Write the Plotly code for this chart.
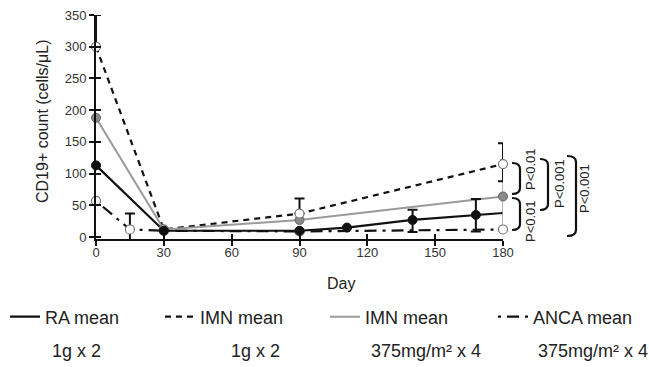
import plotly.graph_objects as go

# ---------------- data ----------------
ra_days = [0, 30, 90, 111, 140, 168, 180]
ra_vals = [113, 10, 10, 15, 27, 35, 38]
ra_err_up = [0, 0, 0, 0, 16, 25, 0]
ra_err_dn = [0, 0, 0, 0, 19, 26, 0]

imn1_days = [0, 30, 90, 180]
imn1_vals = [300, 12, 37, 115]
imn1_err_up = [50, 0, 24, 33]
imn1_err_dn = [0, 0, 0, 27]

imn375_days = [0, 30, 90, 180]
imn375_vals = [188, 12, 27, 64]
imn375_err = [0, 0, 0, 58]

anca_days = [0, 15, 30, 90, 180]
anca_vals = [57, 12, 10, 9, 12]
anca_err_up = [0, 25, 0, 0, 0]
anca_err_dn = [0, 27, 0, 0, 0]

x_ticks = [0, 30, 60, 90, 120, 150, 180]
y_ticks = [0, 50, 100, 150, 200, 250, 300, 350]

legend_names = ["RA mean", "IMN mean", "IMN mean", "ANCA mean"]
dose_labels = ["1g x 2", "1g x 2", "375mg/m² x 4", "375mg/m² x 4"]
p_labels = ["P<0.01", "P<0.01", "P<0.001", "P<0.001"]

# ---------------- layout geometry ----------------
W, H = 649, 367
ML, MR, MT, MB = 96, 146, 15, 128
PW = W - ML - MR
PH = H - MT - MB

def px(xp):
    return (xp - ML) / PW

def py(yp):
    return (H - MB - yp) / PH

FONT = "Liberation Sans, Arial, sans-serif"
TXT = "#222"
GRAY = "#9a9a9a"

fig = go.Figure()

# line traces (each in its own legend)
fig.add_trace(go.Scatter(x=ra_days, y=ra_vals, mode="lines", name=legend_names[0],
                         legend="legend",
                         line=dict(color="#111", width=2.2), cliponaxis=False))
fig.add_trace(go.Scatter(x=imn1_days, y=imn1_vals, mode="lines", name=legend_names[1],
                         legend="legend2",
                         line=dict(color="#111", width=2.2, dash="6px,5px"), cliponaxis=False))
fig.add_trace(go.Scatter(x=imn375_days, y=imn375_vals, mode="lines", name=legend_names[2],
                         legend="legend3",
                         line=dict(color=GRAY, width=2), cliponaxis=False))
fig.add_trace(go.Scatter(x=anca_days, y=anca_vals, mode="lines", name=legend_names[3],
                         legend="legend4",
                         line=dict(color="#111", width=2.2, dash="3px,6px,12px,6px"), cliponaxis=False))

# markers + error bars (not in legend)
fig.add_trace(go.Scatter(x=imn375_days, y=imn375_vals, mode="markers", showlegend=False,
                         marker=dict(size=9, color="#8a8a8a", line=dict(color="#666", width=1)),
                         error_y=dict(type="data", array=imn375_err, color=GRAY,
                                      thickness=1.5, width=3),
                         cliponaxis=False))
fig.add_trace(go.Scatter(x=imn1_days, y=imn1_vals, mode="markers", showlegend=False,
                         marker=dict(size=9, color="white", line=dict(color="#777", width=1.2)),
                         error_y=dict(type="data", symmetric=False, array=imn1_err_up,
                                      arrayminus=imn1_err_dn, color="#111", thickness=2, width=5),
                         cliponaxis=False))
fig.add_trace(go.Scatter(x=anca_days, y=anca_vals, mode="markers", showlegend=False,
                         marker=dict(size=9, color="white", line=dict(color="#777", width=1.2)),
                         error_y=dict(type="data", symmetric=False, array=anca_err_up,
                                      arrayminus=anca_err_dn, color="#111", thickness=2, width=5),
                         cliponaxis=False))
fig.add_trace(go.Scatter(x=ra_days[:-1], y=ra_vals[:-1], mode="markers", showlegend=False,
                         marker=dict(size=9, color="#111", line=dict(color="#111", width=1)),
                         error_y=dict(type="data", symmetric=False, array=ra_err_up[:-1],
                                      arrayminus=ra_err_dn[:-1], color="#111", thickness=2, width=5),
                         cliponaxis=False))

# invisible trace for inner tick axes
fig.add_trace(go.Scatter(x=[None], y=[None], xaxis="x2", yaxis="y2", showlegend=False,
                         hoverinfo="skip"))

axis_common = dict(showgrid=False, zeroline=False)

def legend_at(xpix):
    return dict(x=px(xpix), y=py(317), xref="paper", yref="paper",
                xanchor="left", yanchor="middle", font=dict(size=18, color=TXT),
                itemwidth=30, bgcolor="rgba(0,0,0,0)", borderwidth=0)

fig.update_layout(
    width=W, height=H,
    margin=dict(l=ML, r=MR, t=MT, b=MB, autoexpand=False),
    paper_bgcolor="white", plot_bgcolor="white",
    font=dict(family=FONT, color=TXT),
    xaxis=dict(range=[0, 180], tickvals=x_ticks, ticks="outside", ticklen=5, tickwidth=2,
               tickcolor="#111", showline=True, linecolor="#111", linewidth=2,
               ticklabelstandoff=-5,
               tickfont=dict(size=13, color="#333"), **axis_common),
    yaxis=dict(range=[-3, 350], tickvals=y_ticks, ticks="outside", ticklen=5, tickwidth=2,
               tickcolor="#111", showline=True, linecolor="#111", linewidth=2,
               tickfont=dict(size=13, color="#333"), **axis_common),
    xaxis2=dict(range=[0, 180], tickvals=x_ticks, ticks="inside", ticklen=5, tickwidth=2,
                tickcolor="#111", showticklabels=False, overlaying="x", anchor="y2",
                showline=False, **axis_common),
    yaxis2=dict(range=[-3, 350], tickvals=y_ticks, ticks="inside", ticklen=5, tickwidth=2,
                tickcolor="#111", showticklabels=False, overlaying="y", anchor="x2",
                side="left", showline=False, **axis_common),
    legend=legend_at(5),
    legend2=legend_at(160),
    legend3=legend_at(325),
    legend4=legend_at(493),
    showlegend=True,
)

def ann(text, xc, yc, size, angle=0):
    return dict(text=text, x=px(xc), y=py(yc), xref="paper", yref="paper",
                xanchor="center", yanchor="middle", textangle=angle,
                showarrow=False, font=dict(size=size, color=TXT))

annotations = [
    ann("CD19+ count (cells/μL)", 42, 121, 16, -90),
    ann("Day", 341, 283, 16),
]
dose_x = [76, 255, 426, 593]
for lab, xc in zip(dose_labels, dose_x):
    annotations.append(ann(lab, xc, 351, 18))

# P-value brackets: (x_left, x_right, y_top, y_bottom, text_x, text_y) in pixels
brackets = [
    (512, 520, 163, 194, 530, 169),
    (512, 520, 198, 230, 530, 221),
    (540, 548, 159, 210, 559, 184),
    (567, 576, 156, 236, 584, 189),
]
shapes = []
for (x0, x1, yt, yb, tx, ty), lab in zip(brackets, p_labels):
    r = 6
    path = (f"M{px(x0)},{py(yt)} Q{px(x1)},{py(yt)} {px(x1)},{py(yt + r)} "
            f"L{px(x1)},{py(yb - r)} Q{px(x1)},{py(yb)} {px(x0)},{py(yb)}")
    shapes.append(dict(type="path", path=path, xref="paper", yref="paper",
                       line=dict(color="#111", width=2.2)))
    annotations.append(ann(lab, tx, ty, 13, -90))

fig.update_layout(annotations=annotations, shapes=shapes)

fig.write_html("out.html")
